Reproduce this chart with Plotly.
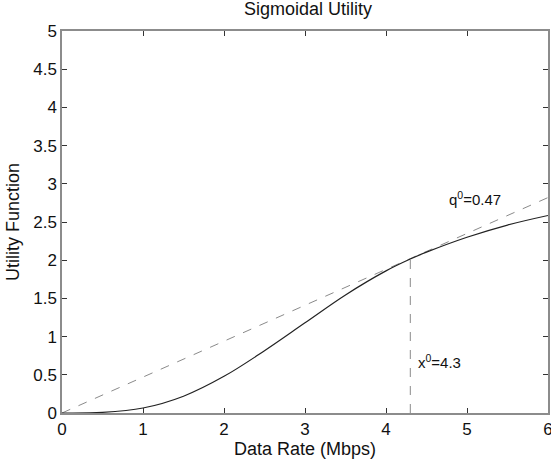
import plotly.graph_objects as go

# Data
rate = [0, 0.5, 1, 1.5, 2, 2.5, 3, 3.5, 4, 4.3, 4.5, 5, 5.5, 6]
utility = [0, 0.008, 0.065, 0.22, 0.48, 0.815, 1.18, 1.545, 1.86, 2.015, 2.105, 2.30, 2.46, 2.585]
q0 = 0.47
x0 = 4.3
tangent_x = [0, 6]
tangent_y = [0, q0 * 6]
xticks = [0, 1, 2, 3, 4, 5, 6]
yticks = [0, 0.5, 1, 1.5, 2, 2.5, 3, 3.5, 4, 4.5, 5]
ytick_text = ["0", "0.5", "1", "1.5", "2", "2.5", "3", "3.5", "4", "4.5", "5"]

FONT = "Liberation Sans, Arial, sans-serif"

fig = go.Figure()
fig.add_trace(go.Scatter(x=tangent_x, y=tangent_y, mode="lines",
                         line=dict(color="#8a8a8a", width=1, dash="dash"),
                         hoverinfo="skip", showlegend=False))
fig.add_trace(go.Scatter(x=[x0, x0], y=[0, q0 * x0], mode="lines",
                         line=dict(color="#8a8a8a", width=1, dash="dash"),
                         hoverinfo="skip", showlegend=False))
fig.add_trace(go.Scatter(x=rate, y=utility, mode="lines", line_shape="spline",
                         line=dict(color="#222222", width=1.2), showlegend=False))

axis_common = dict(showgrid=False, zeroline=False, showline=True, mirror="ticks",
                   linecolor="#8c8c8c", linewidth=1.5, ticks="inside", ticklen=5,
                   tickcolor="#333333", automargin=False,
                   tickfont=dict(family=FONT, size=17, color="#111"))

fig.update_xaxes(range=[0, 6], tickvals=xticks, ticktext=[str(t) for t in xticks],
                 ticklabeloverflow="allow",
                 title=dict(text="Data Rate (Mbps)", font=dict(family=FONT, size=18, color="#111"),
                            standoff=3), **axis_common)
fig.update_yaxes(range=[0, 5], tickvals=yticks, ticktext=ytick_text,
                 title=dict(text="Utility Function", font=dict(family=FONT, size=18, color="#111"),
                            standoff=9), **axis_common)

fig.add_annotation(x=4.37, y=0.67, xanchor="left", yanchor="middle",
                   text="x<sup>0</sup>=4.3", showarrow=False,
                   font=dict(family=FONT, size=15, color="#111"))
fig.add_annotation(x=4.75, y=2.81, xanchor="left", yanchor="middle",
                   text="q<sup>0</sup>=0.47", showarrow=False,
                   font=dict(family=FONT, size=15, color="#111"))

fig.update_layout(
    width=551, height=462,
    margin=dict(l=62, r=3, t=31, b=49),
    paper_bgcolor="white", plot_bgcolor="white",
    title=dict(text="Sigmoidal Utility", x=0.559, xanchor="center", y=0.981, yanchor="middle",
               font=dict(family=FONT, size=18, color="#111")),
)

fig.write_html("out.html", config={"displayModeBar": False},
               post_script="document.body.style.margin='0px';")
